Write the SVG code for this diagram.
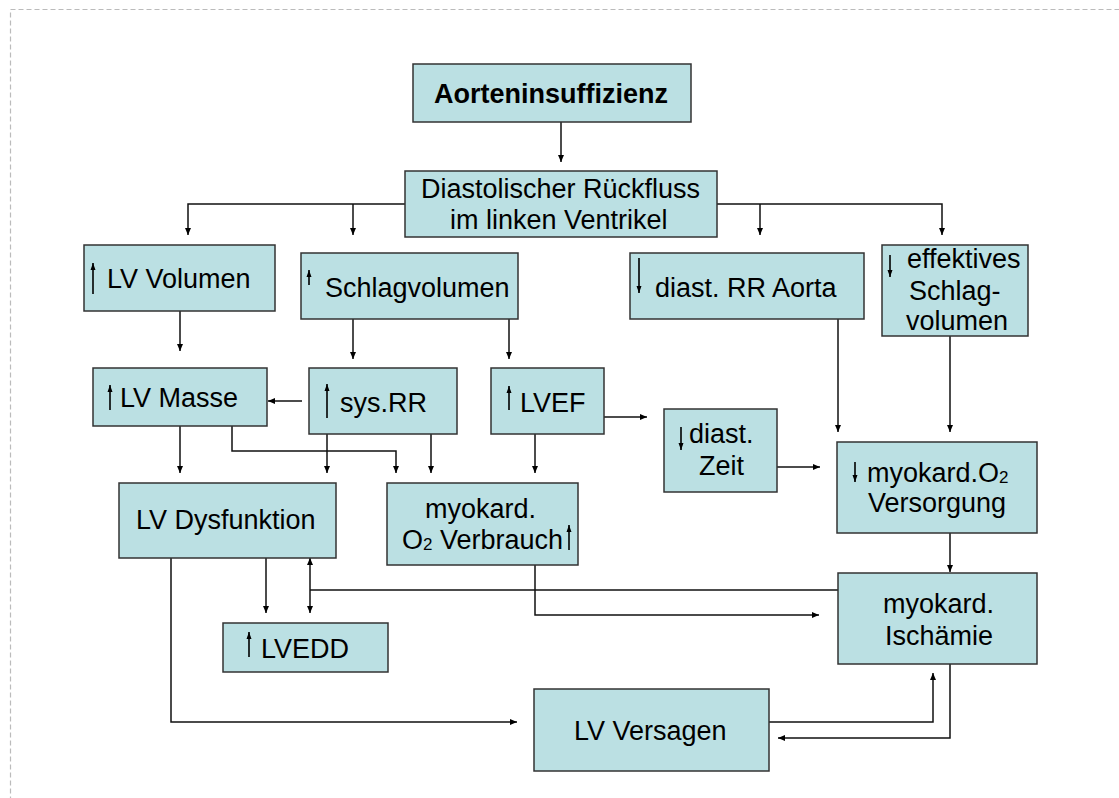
<svg xmlns="http://www.w3.org/2000/svg" width="1119" height="798" viewBox="0 0 1119 798">
<style>
.box{fill:#BBE0E3;stroke:#333;stroke-width:1.5}
.t{font-family:"Liberation Sans",Arial,Helvetica,sans-serif;font-size:27px;fill:#000}
.b{font-weight:bold}
.c{fill:none;stroke:#111;stroke-width:1.5}
.g{fill:none;stroke:#000;stroke-width:1.6}
.sub{font-size:17px}
</style>
<defs>
<marker id="ah" markerUnits="userSpaceOnUse" markerWidth="8" markerHeight="8" refX="7" refY="3" orient="auto">
<path d="M0,0 L7,3 L0,6 Z" fill="#000"/>
</marker>
<marker id="gh" markerUnits="userSpaceOnUse" markerWidth="8" markerHeight="8" refX="7" refY="3" orient="auto">
<path d="M0,0.5 L7,3 L0,5.5 Z" fill="#000"/>
</marker>
</defs>
<rect x="10.5" y="9.5" width="1200" height="900" fill="none" stroke="#bbb" stroke-width="1.2" stroke-dasharray="5,3"/>

<g id="connectors">
<path class="c" d="M561,122 V162" marker-end="url(#ah)"/>
<path class="c" d="M405,204 H188 V235" marker-end="url(#ah)"/>
<path class="c" d="M353,204 V235" marker-end="url(#ah)"/>
<path class="c" d="M717,204 H942 V235" marker-end="url(#ah)"/>
<path class="c" d="M760,204 V235" marker-end="url(#ah)"/>
<path class="c" d="M180,311 V351" marker-end="url(#ah)"/>
<path class="c" d="M353,319 V359" marker-end="url(#ah)"/>
<path class="c" d="M509,319 V359" marker-end="url(#ah)"/>
<path class="c" d="M302,401 H268" marker-end="url(#ah)"/>
<path class="c" d="M604,417 H647" marker-end="url(#ah)"/>
<path class="c" d="M838,319 V432" marker-end="url(#ah)"/>
<path class="c" d="M950,336 V432" marker-end="url(#ah)"/>
<path class="c" d="M777,467 H820" marker-end="url(#ah)"/>
<path class="c" d="M180,426 V473" marker-end="url(#ah)"/>
<path class="c" d="M232,426 V451 H396 V473" marker-end="url(#ah)"/>
<path class="c" d="M327,434 V473" marker-end="url(#ah)"/>
<path class="c" d="M431,434 V473" marker-end="url(#ah)"/>
<path class="c" d="M535,434 V473" marker-end="url(#ah)"/>
<path class="c" d="M266,558 V613" marker-end="url(#ah)"/>
<path class="c" d="M838,590 H310"/>
<path class="c" d="M310,590 V558" marker-end="url(#ah)"/>
<path class="c" d="M310,590 V613" marker-end="url(#ah)"/>
<path class="c" d="M535,565 V615 H819" marker-end="url(#ah)"/>
<path class="c" d="M950,533 V572" marker-end="url(#ah)"/>
<path class="c" d="M171,558 V722 H517" marker-end="url(#ah)"/>
<path class="c" d="M769,722 H933 V673" marker-end="url(#ah)"/>
<path class="c" d="M950,664 V738 H778" marker-end="url(#ah)"/>
</g>

<g id="n-aorteninsuffizienz">
<rect class="box" x="413" y="64" width="278" height="58"/>
<text class="t b" x="434" y="103">Aorteninsuffizienz</text>
</g>
<g id="n-rueckfluss">
<rect class="box" x="405" y="171" width="312" height="66"/>
<text class="t" x="421" y="198">Diastolischer Rückfluss</text>
<text class="t" x="450" y="229">im linken Ventrikel</text>
</g>
<g id="n-lv-volumen">
<rect class="box" x="84" y="245" width="191" height="66"/>
<path class="g" d="M93,294 V263" marker-end="url(#gh)"/>
<text class="t" x="107" y="288">LV Volumen</text>
</g>
<g id="n-schlagvolumen">
<rect class="box" x="301" y="253" width="217" height="66"/>
<path class="g" d="M309,285 V270" marker-end="url(#gh)"/>
<text class="t" x="325" y="297">Schlagvolumen</text>
</g>
<g id="n-diast-rr-aorta">
<rect class="box" x="630" y="253" width="234" height="66"/>
<path class="g" d="M639,258 V293" marker-end="url(#gh)"/>
<text class="t" x="655" y="297">diast. RR Aorta</text>
</g>
<g id="n-eff-schlagvolumen">
<rect class="box" x="882" y="245" width="146" height="91"/>
<path class="g" d="M890,255 V277" marker-end="url(#gh)"/>
<text class="t" x="907" y="268">effektives</text>
<text class="t" x="909" y="300">Schlag-</text>
<text class="t" x="906" y="330">volumen</text>
</g>
<g id="n-lv-masse">
<rect class="box" x="93" y="368" width="174" height="58"/>
<path class="g" d="M110,410 V385" marker-end="url(#gh)"/>
<text class="t" x="120" y="407">LV Masse</text>
</g>
<g id="n-sys-rr">
<rect class="box" x="309" y="368" width="148" height="66"/>
<path class="g" d="M327,418 V384" marker-end="url(#gh)"/>
<text class="t" x="340" y="412">sys.RR</text>
</g>
<g id="n-lvef">
<rect class="box" x="491" y="368" width="113" height="66"/>
<path class="g" d="M509,410 V386" marker-end="url(#gh)"/>
<text class="t" x="520" y="412">LVEF</text>
</g>
<g id="n-diast-zeit">
<rect class="box" x="664" y="409" width="113" height="83"/>
<path class="g" d="M681,427 V450" marker-end="url(#gh)"/>
<text class="t" x="689" y="443">diast.</text>
<text class="t" x="699" y="475">Zeit</text>
</g>
<g id="n-o2-versorgung">
<rect class="box" x="837" y="442" width="200" height="91"/>
<path class="g" d="M855,462 V482" marker-end="url(#gh)"/>
<text class="t" x="867" y="482">myokard.O<tspan class="sub" dy="1">2</tspan></text>
<text class="t" x="868" y="512">Versorgung</text>
</g>
<g id="n-lv-dysfunktion">
<rect class="box" x="119" y="483" width="217" height="75"/>
<text class="t" x="136" y="529">LV Dysfunktion</text>
</g>
<g id="n-o2-verbrauch">
<rect class="box" x="387" y="483" width="191" height="82"/>
<text class="t" x="425" y="518">myokard.</text>
<text class="t" x="402" y="549">O<tspan class="sub" dy="1">2</tspan><tspan dy="-1"> Verbrauch</tspan></text>
<path class="g" d="M569,550 V525" marker-end="url(#gh)"/>
</g>
<g id="n-lvedd">
<rect class="box" x="223" y="623" width="165" height="49"/>
<path class="g" d="M249,657 V632" marker-end="url(#gh)"/>
<text class="t" x="261" y="658">LVEDD</text>
</g>
<g id="n-ischaemie">
<rect class="box" x="838" y="573" width="199" height="91"/>
<text class="t" x="883" y="613">myokard.</text>
<text class="t" x="885" y="645">Ischämie</text>
</g>
<g id="n-lv-versagen">
<rect class="box" x="534" y="689" width="235" height="82"/>
<text class="t" x="574" y="740">LV Versagen</text>
</g>
</svg>
